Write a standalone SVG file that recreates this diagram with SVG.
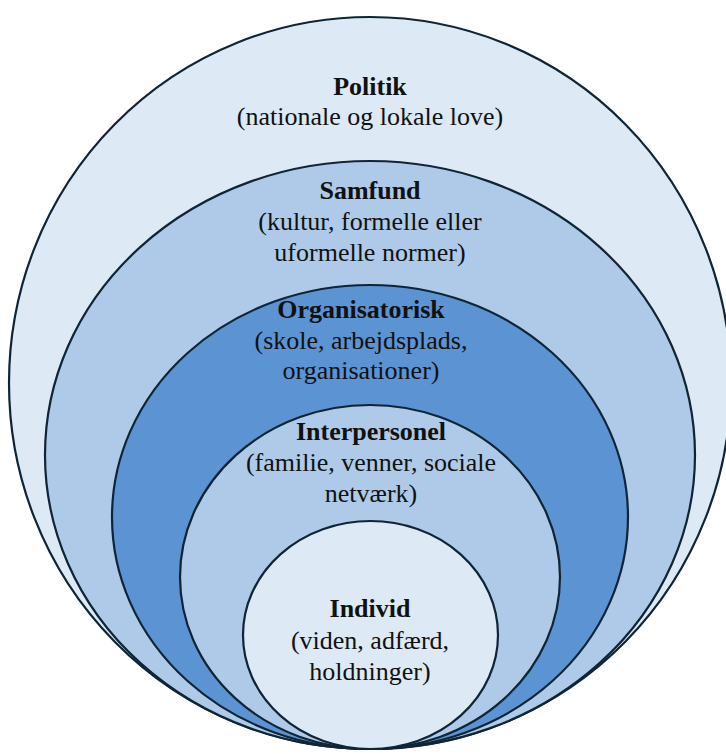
<svg xmlns="http://www.w3.org/2000/svg" width="726" height="754" viewBox="0 0 726 754">
<style>
.ring{stroke:#0f2536;stroke-width:2.2}
.l1{fill:#dde9f5}
.l2{fill:#aecae8}
.l3{fill:#5b93d3}
text{font-family:'Liberation Serif','Times New Roman','DejaVu Serif',serif;font-size:26px;fill:#111;text-anchor:middle}
.t{font-weight:bold}
</style>
<rect width="726" height="754" fill="#ffffff"/>
<g id="politik">
<ellipse class="ring l1" cx="370" cy="383" rx="361" ry="366"/>
<text class="t" x="370" y="95" font-family="Liberation Serif, serif">Politik</text>
<text x="370" y="125" font-family="Liberation Serif, serif">(nationale og lokale love)</text>
</g>
<g id="samfund">
<ellipse class="ring l2" cx="370" cy="455" rx="325" ry="294"/>
<text class="t" x="370" y="199" font-family="Liberation Serif, serif">Samfund</text>
<text x="370" y="230" font-family="Liberation Serif, serif">(kultur, formelle eller</text>
<text x="370" y="261" font-family="Liberation Serif, serif">uformelle normer)</text>
</g>
<g id="organisatorisk">
<ellipse class="ring l3" cx="370" cy="517" rx="258" ry="232"/>
<text class="t" x="361" y="318" font-family="Liberation Serif, serif">Organisatorisk</text>
<text x="361" y="349" font-family="Liberation Serif, serif">(skole, arbejdsplads,</text>
<text x="361" y="379" font-family="Liberation Serif, serif">organisationer)</text>
</g>
<g id="interpersonel">
<ellipse class="ring l2" cx="370" cy="577" rx="190" ry="172"/>
<text class="t" x="371" y="440" font-family="Liberation Serif, serif">Interpersonel</text>
<text x="371" y="471" font-family="Liberation Serif, serif">(familie, venner, sociale</text>
<text x="371" y="502" font-family="Liberation Serif, serif">netværk)</text>
</g>
<g id="individ">
<ellipse class="ring l1" cx="370.5" cy="635" rx="127.5" ry="114"/>
<text class="t" x="370" y="617" font-family="Liberation Serif, serif">Individ</text>
<text x="370" y="649" font-family="Liberation Serif, serif">(viden, adfærd,</text>
<text x="370" y="680" font-family="Liberation Serif, serif">holdninger)</text>
</g>
<g id="connectors"/>
</svg>
